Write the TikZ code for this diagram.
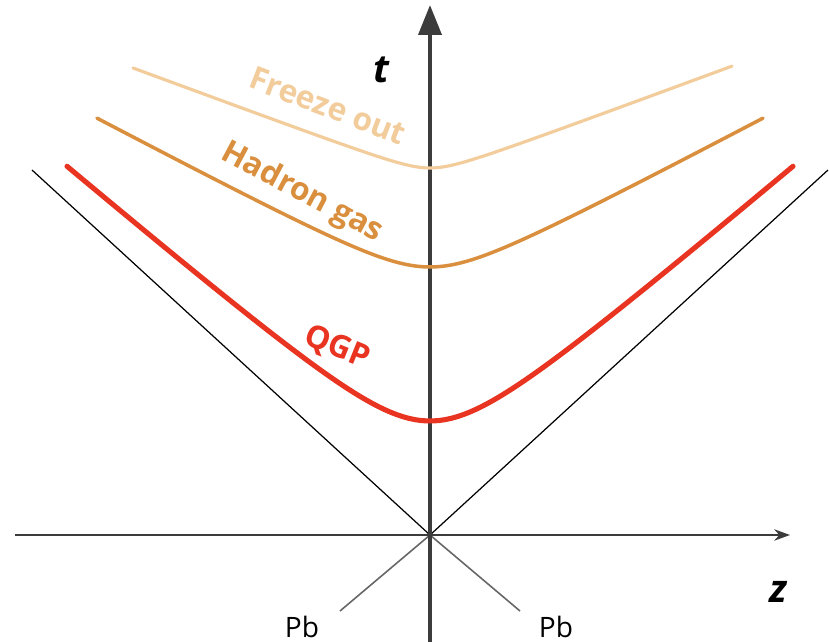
\documentclass[tikz,border=0pt]{standalone}
\usepackage{fontspec}
\setmainfont{Open Sans}
\usetikzlibrary{
    arrows.meta,
    positioning
}
\definecolor{freezeTan}{RGB}{242,204,155}
\definecolor{hadronOrange}{RGB}{217,143,61}
\definecolor{qgpRed}{RGB}{232,52,33}
\definecolor{axisGray}{RGB}{60,60,60}
\tikzset{
  stage/.style   = {font=\fontsize{18}{20}\selectfont\bfseries, inner sep=0pt},
  axlbl/.style   = {font=\fontsize{22}{24}\selectfont\bfseries\itshape, inner sep=0pt},
  beam/.style    = {font=\fontsize{16}{18}\selectfont, inner sep=0pt}
}

\begin{document}
\begin{tikzpicture}[
  x=0.02cm, y=-0.02cm,
  taxis/.style={line width=2.3pt, axisGray, -{Triangle[length=17pt,width=13pt]}},
  zaxis/.style={line width=0.9pt, axisGray, -{Stealth[length=9pt,width=6.5pt]}},
  cone/.style={line width=0.7pt, black},
  incoming/.style={line width=0.9pt, gray!80!black},
  hyp/.style={line cap=round, line join=round}
]
\useasboundingbox (0,0) rectangle (829,642);

%% origin and axis ends
\coordinate (O)     at (430,535);
\coordinate (tbot)  at (430,642);
\coordinate (ttop)  at (430,5);
\coordinate (zl)    at (15,535);
\coordinate (zr)    at (790,535);
\coordinate (coneL) at (32,170);
\coordinate (coneR) at (828,170);
\coordinate (pbL)   at (340,611);
\coordinate (pbR)   at (520,611);

%% light cone and incoming nuclei
\draw[cone] (coneL) -- (O) -- (coneR);
\draw[incoming] (pbL) -- (O) -- (pbR);

%% axes
\draw[zaxis] (zl) -- (zr);
\draw[taxis] (tbot) -- (ttop);

%% proper-time hyperbolas (x scaled by 1/100 inside sqrt)
\draw[hyp, freezeTan, line width=1.8pt]
  plot[domain=-297:302, samples=120] ({430+\x}, {168-37*(sqrt(0.0784+(\x/100)^2)-0.28)});
\draw[hyp, hadronOrange, line width=2pt]
  plot[domain=-333:333, samples=120] ({430+\x}, {267-53*(sqrt(0.3249+(\x/100)^2)-0.57)});
\draw[hyp, qgpRed, line width=2.9pt]
  plot[domain=-363:363, samples=120] ({430+\x}, {421-85*(sqrt(0.49+(\x/100)^2)-0.7)});

%% labels
\node[stage, freezeTan, rotate=-21]    (fo)  at (328,106) {Freeze out};
\node[stage, hadronOrange, rotate=-28] (hg)  at (302,193) {Hadron gas};
\node[stage, qgpRed, rotate=-22]       (qgp) at (337,348) {QGP};
\node[axlbl] (tlbl) at (381,70)  {t};
\node[axlbl] (zlbl) at (778,592) {z};
\node[beam]  (pb1)  at (302,627) {Pb};
\node[beam]  (pb2)  at (556,627) {Pb};

\end{tikzpicture}
\end{document}
